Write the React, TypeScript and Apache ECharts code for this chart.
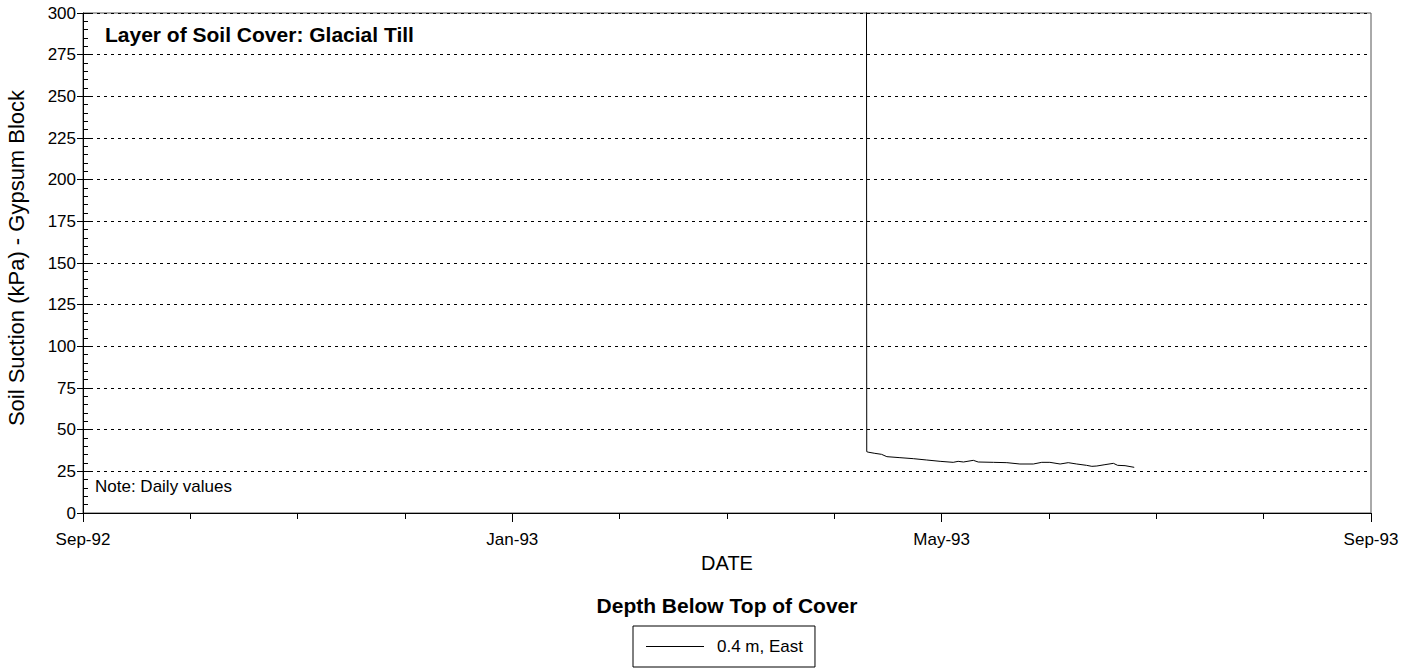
import React, { useEffect, useRef } from "react";
import * as echarts from "echarts";

// x: days since 1 Sep 1992; y: soil suction (kPa)
const days = [222.0, 222.1, 222.5, 224.4, 226.3, 227.8, 231.5, 235.3, 239.1, 242.9, 246.6, 248.0, 249.5, 252.3, 253.7, 258.0, 261.8, 265.5, 269.3, 271.7, 274.0, 276.9, 279.2, 281.6, 284.4, 285.9, 287.3, 289.6, 292.0, 293.2, 295.3, 297.9];
const suction = [450, 36.8, 36.5, 35.8, 35.2, 33.8, 33.2, 32.6, 31.8, 31.0, 30.4, 31.0, 30.6, 31.6, 30.6, 30.4, 30.2, 29.4, 29.4, 30.4, 30.4, 29.4, 30.2, 29.4, 28.6, 28.0, 28.2, 29.0, 29.8, 28.6, 28.4, 27.4];
const xTickLabels = ["Sep-92", "Jan-93", "May-93", "Sep-93"];
const seriesName = "0.4 m, East";

const FONT = "'Liberation Sans', Arial, sans-serif";

export default function App() {
  const ref = useRef<HTMLDivElement>(null);
  useEffect(() => {
    if (!ref.current) return;
    const chart = echarts.init(ref.current, undefined, { renderer: "svg" });
    const data = days.map((d, i) => [d, suction[i]]);
    chart.setOption({
      animation: false,
      textStyle: { fontFamily: FONT, color: "#000" },
      grid: {
        left: 83,
        right: 45,
        top: 13,
        bottom: 157,
        containLabel: false,
        outerBoundsMode: "none",
        show: true,
        borderColor: "#555",
        borderWidth: 1,
        backgroundColor: "#fff",
      },
      xAxis: {
        type: "value",
        min: 0,
        max: 365,
        interval: 365 / 3,
        name: "DATE",
        nameLocation: "middle",
        nameGap: 39,
        nameTextStyle: { fontSize: 20, color: "#000", fontFamily: FONT },
        axisLine: { show: true, onZero: false, lineStyle: { color: "#000", width: 1 } },
        axisTick: { show: true, length: 9, lineStyle: { color: "#000" } },
        minorTick: { show: true, splitNumber: 4, length: 6, lineStyle: { color: "#000" } },
        splitLine: { show: false },
        axisLabel: {
          margin: 18,
          fontSize: 17,
          color: "#000",
          fontFamily: FONT,
          formatter: (v: number) => xTickLabels[Math.round(v / (365 / 3))] ?? "",
        },
      },
      yAxis: [
        {
          type: "value",
          position: "left",
          min: 0,
          max: 300,
          interval: 25,
          name: "Soil Suction (kPa) - Gypsum Block",
          nameLocation: "middle",
          nameGap: 56,
          nameTextStyle: { fontSize: 22, color: "#000", fontFamily: FONT, padding: [0, 0, 0, 10] },
          axisLine: { show: true, lineStyle: { color: "#000", width: 1 } },
          axisTick: { show: true, inside: true, length: 7, lineStyle: { color: "#000" } },
          minorTick: { show: true, splitNumber: 5, length: 5, lineStyle: { color: "#000" } },
          splitLine: { show: true, lineStyle: { color: "#000", type: [3, 4], width: 1 } },
          axisLabel: { margin: 7, fontSize: 17, color: "#000", fontFamily: FONT },
        },
        {
          type: "value",
          position: "left",
          min: 0,
          max: 300,
          interval: 25,
          axisLine: { show: false },
          axisTick: { show: true, inside: false, length: 6, lineStyle: { color: "#000" } },
          axisLabel: { show: false },
          splitLine: { show: false },
        },
      ],
      legend: {
        left: 633,
        top: 626,
        orient: "horizontal",
        borderColor: "#000",
        borderWidth: 1,
        padding: [12, 12, 12, 13],
        itemWidth: 58,
        itemHeight: 14,
        textStyle: { fontSize: 17, color: "#000", fontFamily: FONT, padding: [0, 0, 0, 8] },
        data: [{ name: seriesName, icon: "path://M0,7L58,7L58,8L0,8Z" }],
      },
      graphic: [
        {
          type: "text",
          left: 105,
          top: 24,
          style: { text: "Layer of Soil Cover: Glacial Till", fontSize: 21, fontWeight: "bold", fill: "#000", fontFamily: FONT },
        },
        {
          type: "text",
          left: 95,
          top: 478,
          style: { text: "Note: Daily values", fontSize: 17, fill: "#000", fontFamily: FONT },
        },
        {
          type: "text",
          x: 727,
          y: 595,
          style: { text: "Depth Below Top of Cover", fontSize: 21, fontWeight: "bold", fill: "#000", fontFamily: FONT, align: "center", verticalAlign: "top" },
        },
      ],
      series: [
        {
          name: seriesName,
          type: "line",
          xAxisIndex: 0,
          yAxisIndex: 0,
          data,
          symbol: "none",
          showSymbol: false,
          clip: true,
          lineStyle: { color: "#000", width: 1 },
          itemStyle: { color: "#000" },
        },
      ],
    });
    return () => chart.dispose();
  }, []);
  return <div ref={ref} style={{ position: "absolute", left: 0, top: 0, width: 1416, height: 670 }} />;
}
